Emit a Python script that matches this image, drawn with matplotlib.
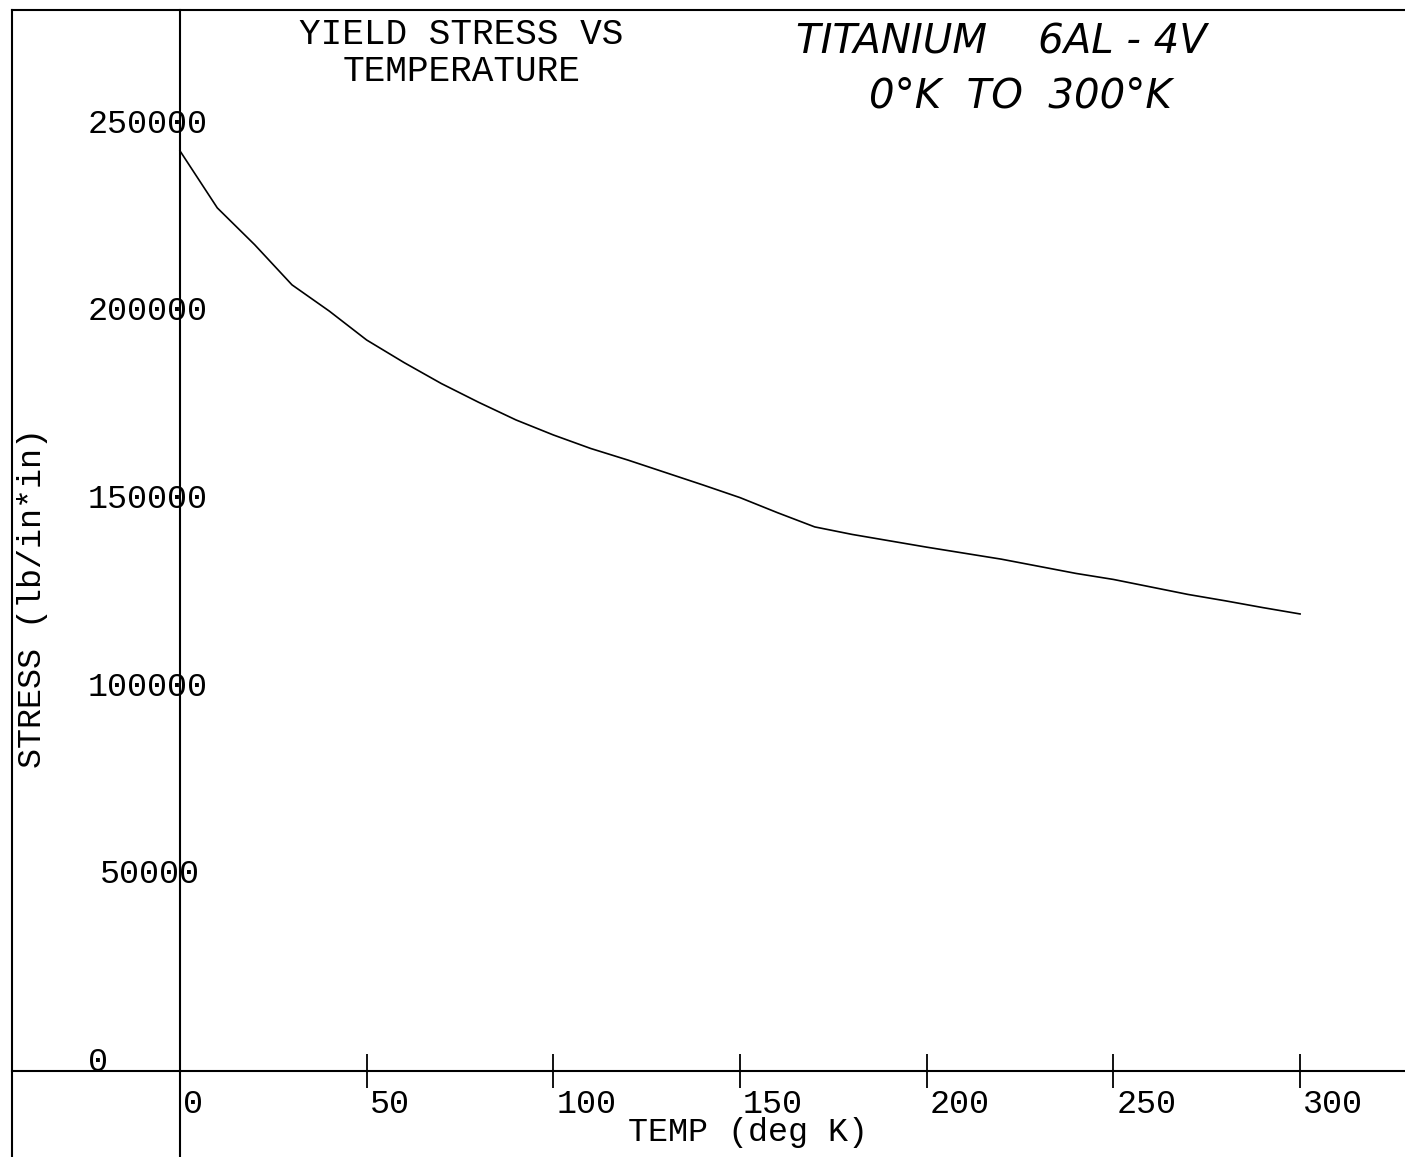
''' Yield stress vs temperature, Titanium 6Al-4V
old pen plotter style chart, 0 K to 300 K'''

import matplotlib
matplotlib.use('Agg')
import matplotlib.pyplot as plt
from matplotlib.lines import Line2D

# data
temp = [0, 10, 20, 30, 40, 50, 60, 70, 80, 90, 100, 110, 120, 130, 140, 150,
        160, 170, 180, 190, 200, 210, 220, 230, 240, 250, 260, 270, 280, 290, 300]
stress = [245200, 230000, 220200, 209500, 202500, 194800, 188800, 183200, 178200,
          173500, 169500, 165900, 162800, 159500, 156200, 152800, 148800, 145000,
          143000, 141300, 139600, 138000, 136400, 134500, 132600, 131000, 129000,
          127000, 125300, 123500, 121800]

x_ticks = [50, 100, 150, 200, 250, 300]
x_labels = ['0', '50', '100', '150', '200', '250', '300']
y_values = [0, 50000, 100000, 150000, 200000, 250000]
y_labels = ['0', '50000', '100000', '150000', '200000', '250000']

title_lines = ['YIELD STRESS VS', 'TEMPERATURE']
note_lines = ['TITANIUM    6AL - 4V', '0°K  TO  300°K']

mono = 'Liberation Mono'

fig = plt.figure(figsize=(14.05, 11.57), dpi=100)
ax = fig.add_axes([0, 0, 1, 1])
ax.set_xlim(-48.2, 328.1)
ax.set_ylim(-22900, 285400)

# axes crossing at the origin
for side in ['top', 'right']:
    ax.spines[side].set_visible(False)
ax.spines['left'].set_position(('data', 0))
ax.spines['bottom'].set_position(('data', 0))
ax.spines['left'].set_bounds(-22900, 282700)
ax.spines['bottom'].set_bounds(-45, 328.1)
for side in ['left', 'bottom']:
    ax.spines[side].set_linewidth(1.5)

ax.set_xticks(x_ticks)
ax.set_xticklabels([])
ax.tick_params(axis='x', direction='inout', length=24, width=1.3)
ax.set_yticks([])

# the curve
ax.plot(temp, stress, color='black', linewidth=1.2)

# tick labels
for i, lab in enumerate(x_labels):
    xv = 0 if i == 0 else x_ticks[i - 1]
    ax.text(xv + 0.8, -4800, lab, family=mono, fontsize=24, ha='left', va='top')
for v, lab in zip(y_values, y_labels):
    xpos = -21.5 if lab == '50000' else -24.6
    ax.text(xpos, v, lab, family=mono, fontsize=24, ha='left', va='baseline')

# axis titles
ax.text(120, -12300, 'TEMP (deg K)', family=mono, fontsize=24, ha='left', va='top')
ax.text(-39.4, 126000, 'STRESS (lb/in*in)', family=mono, fontsize=24,
        rotation=90, ha='center', va='center')

ax.text(75.3, 281000, title_lines[0], family=mono, fontsize=26, ha='center', va='top')
ax.text(75.3, 271000, title_lines[1], family=mono, fontsize=26, ha='center', va='top')

# handwritten note
ax.text(220, 279500, note_lines[0], family='DejaVu Sans', style='italic',
        fontweight='light', fontsize=29, ha='center', va='top')
ax.text(225, 265000, note_lines[1], family='DejaVu Sans', style='italic',
        fontweight='light', fontsize=29, ha='center', va='top')

# sheet frame (left and top edges)
fig.add_artist(Line2D([12 / 1405, 12 / 1405], [0, 1 - 10 / 1157],
                      transform=fig.transFigure, color='black', linewidth=1.5))
fig.add_artist(Line2D([12 / 1405, 1], [1 - 10 / 1157, 1 - 10 / 1157],
                      transform=fig.transFigure, color='black', linewidth=1.5))

fig.savefig('out.png', dpi=100)
